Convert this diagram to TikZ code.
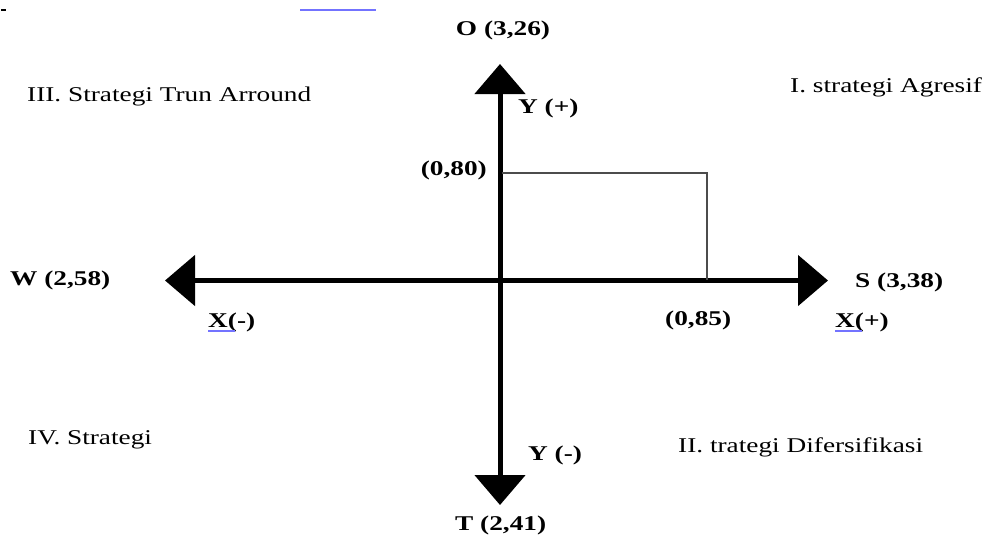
\documentclass[tikz,border=0pt]{standalone}
\usepackage{fontspec}
\setmainfont{Liberation Serif}
\usepackage{graphicx}
\usetikzlibrary{arrows.meta}
\newcommand\sx[1]{\scalebox{1.3}[1]{#1}}
\tikzset{
  lab/.style={font=\fontsize{21}{25}\selectfont, inner sep=0pt, text=black},
  blab/.style={lab, font=\fontsize{21}{25}\selectfont\bfseries},
  axisline/.style={line width=5pt, {Triangle[width=50pt,length=30pt]}-{Triangle[width=50pt,length=30pt]}},
  guide/.style={line width=1.4pt, draw=black!70},
  uline/.style={line width=1.3pt, draw=blue!55}
}
\begin{document}
\begin{tikzpicture}[x=1pt,y=1pt]
\useasboundingbox (0,0) rectangle (990,-542);
% artifacts at top
\coordinate (a1) at (300,-10);
\coordinate (a2) at (376,-10);
\draw[uline] (a1) -- (a2);
\coordinate (m1) at (1,-10);
\coordinate (m2) at (6,-10);
\draw[line width=1.5pt] (m1) -- (m2);
% axes
\coordinate (top) at (500,-64);
\coordinate (bot) at (500,-505);
\coordinate (lft) at (165,-280.5);
\coordinate (rgt) at (828,-280.5);
\draw[axisline] (bot) -- (top);
\draw[axisline] (lft) -- (rgt);
% guide lines
\coordinate (p80) at (502,-173);
\coordinate (p85) at (707,-280);
\draw[guide] (p80) -| (p85);
% labels
\node[blab] (o) at (503,-30) {\sx{O (3,26)}};
\node[blab, anchor=west] (yp) at (518,-108) {\sx{Y (+)}};
\node[blab, anchor=east] (v80) at (487,-170) {\sx{(0,80)}};
\node[lab, anchor=west] (q3) at (27,-96) {\sx{III. Strategi Trun Arround}};
\node[lab, anchor=west] (q1) at (790,-87) {\sx{I. strategi Agresif}};
\node[blab, anchor=west] (w) at (10,-280) {\sx{W (2,58)}};
\node[blab, anchor=west] (xm) at (208,-322) {\sx{X(-)}};
\node[blab, anchor=west] (v85) at (665,-320) {\sx{(0,85)}};
\node[blab, anchor=west] (s) at (855,-282) {\sx{S (3,38)}};
\node[blab, anchor=west] (xp) at (835,-322) {\sx{X(+)}};
\node[lab, anchor=west] (q4) at (28,-440) {\sx{IV. Strategi}};
\node[blab, anchor=west] (ym) at (528,-455) {\sx{Y (-)}};
\node[lab, anchor=west] (q2) at (678,-447) {\sx{II. trategi Difersifikasi}};
\node[blab, anchor=west] (t) at (455,-525) {\sx{T (2,41)}};
% underlines under X
\draw[uline] ([yshift=-4pt]xm.base west) -- ++(27,0);
\draw[uline] ([yshift=-4pt]xp.base west) -- ++(27,0);
\end{tikzpicture}
\end{document}
